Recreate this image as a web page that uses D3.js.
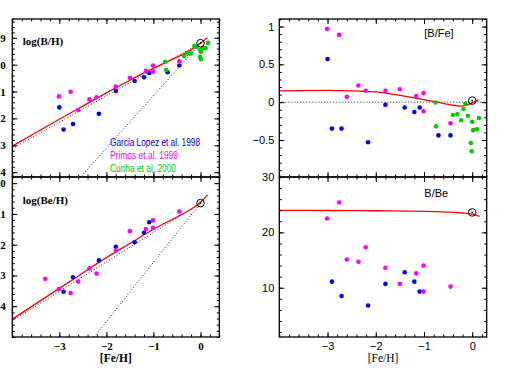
<!DOCTYPE html>
<html>
<head>
<meta charset="utf-8">
<script src="https://cdn.jsdelivr.net/npm/d3@7"></script>
<style>
  body { margin: 0; background: #fff; }
  svg { display: block; }
</style>
</head>
<body>
<script>
// --- dati ---
var garciaFe  = [-3.0, -2.91, -2.71, -2.16, -1.80, -1.40, -1.20, -1.09, -0.70, -0.45];
var garciaBH  = [-11.59, -12.41, -12.21, -11.83, -10.98, -10.61, -10.47, -10.31, -10.28, -10.03];
var garciaBFe = [0.57, -0.35, -0.35, -0.53, -0.035, -0.07, -0.13, -0.07, -0.44, -0.44];

var garciaBeFe = [-2.91, -2.71, -2.16, -1.80, -1.40, -1.20, -1.09];
var garciaBeH  = [-13.53, -13.06, -12.51, -12.07, -11.92, -11.61, -11.27];
var garciaBBe  = [11.1, 8.5, 6.8, 10.7, 12.8, 11.1, 9.3];

var primasFe  = [-3.01, -2.76, -2.60, -2.36, -2.21, -1.80, -1.50, -1.16, -1.01, -1.01, -0.45];
var primasBH  = [-11.18, -11.01, -11.69, -11.29, -11.21, -10.81, -10.49, -10.23, -10.03, -10.26, -9.87];
var primasBFe = [0.97, 0.89, 0.07, 0.22, 0.15, 0.15, 0.17, 0.08, 0.12, -0.12, -0.28];
var primasBBe = [22.5, 25.4, 15.1, 14.7, 17.3, 13.6, 10.7, 12.6, 14.0, 9.3, 10.2];

var primasBeFe = [-3.30, -3.01, -2.76, -2.60, -2.36, -2.21, -1.80, -1.50, -1.16, -1.01, -1.01, -0.45];
var primasBeH  = [-13.11, -13.44, -13.57, -13.20, -12.77, -12.94, -12.18, -11.56, -11.49, -11.21, -11.45, -10.92];

var cunhaFe  = [-0.75, -0.73, -0.35, -0.28, -0.20, -0.13, -0.08, -0.01, 0.01, 0.05, 0.11, 0.16, -0.01, 0.01];
var cunhaBH  = [-9.89, -10.20, -9.68, -9.58, -9.58, -9.31, -9.33, -9.45, -9.52, -9.37, -9.39, -9.19, -9.71, -9.80];
var cunhaFe2 = [-0.76, -0.75, -0.40, -0.31, -0.23, -0.18, -0.14, -0.09, -0.03, 0.0, 0.02, -0.01, 0.10, 0.14];
var cunhaBFe = [-0.005, -0.32, -0.17, -0.16, -0.24, -0.09, -0.02, -0.18, -0.54, -0.26, -0.37, -0.65, -0.36, -0.21];

// modello (curva rossa)
var modelFe   = [-4, -3, -2.5, -2, -1.5, -1, -0.5, -0.2, 0, 0.15];
var modelBH   = [-13.03, -12.03, -11.54, -11.05, -10.58, -10.13, -9.72, -9.45, -9.2, -9.0];
var modelBeH  = [-14.42, -13.42, -12.92, -12.42, -11.96, -11.5, -11.1, -10.85, -10.62, -10.38];
var modelFe2  = [-4, -3, -2.5, -2, -1.8, -1.5, -1.15, -0.76, -0.46, -0.19, 0, 0.13];
var modelBFe  = [0.15, 0.155, 0.15, 0.135, 0.12, 0.09, 0.05, 0.006, -0.035, -0.05, -0.01, 0.03];
var modelFe3  = [-4, -3, -2, -1, -0.5, -0.2, 0, 0.15];
var modelBBe  = [23.96, 23.95, 23.9, 23.8, 23.65, 23.5, 23.3, 22.9];

// linee punteggiate (pendenza 1 e 2 dal Sole)
var dotBH  = [[[-4, -13.12], [0, -9.2]], [[-2.53, -14.15], [0, -9.2]]];
var dotBeH = [[[-4, -14.47], [0, -10.65]], [[-2.26, -15], [0, -10.65]]];
var dotBFe = [[[-4, 0], [0.3, 0]]];

var sunBH = [0, -9.2], sunBeH = [0, -10.65], sunBFe = [0, 0.02], sunBBe = [0, 23.6];

var xTicks = [-3, -2, -1, 0];

var blue = "#0000ff", magenta = "#ff00ff", green = "#00cc00", red = "#ff0000";

var svg = d3.select("body").append("svg")
    .attr("width", 509)
    .attr("height", 380);

function zip(a, b) {
    return a.map(function (d, i) { return [d, b[i]]; });
}

function range(a, b, s) {
    var out = [];
    for (var v = a; v <= b + 1e-9; v += s) out.push(Math.round(v * 1000) / 1000);
    return out;
}

// disegna un pannello
function panel(o) {
    var w = o.x1 - o.x0, h = o.y1 - o.y0;
    var x = d3.scaleLinear().domain(o.xDom).range([0, w]);
    var y = d3.scaleLinear().domain(o.yDom).range([h, 0]);
    var g = svg.append("g").attr("transform", "translate(" + o.x0 + "," + o.y0 + ")");

    var clip = "clip" + o.id;
    g.append("clipPath").attr("id", clip).append("rect").attr("width", w).attr("height", h);
    var plot = g.append("g").attr("clip-path", "url(#" + clip + ")");

    var xMinor = range(-4, o.xDom[1], 0.2);
    var yMinor = range(Math.ceil(o.yDom[0] / o.yMinorStep) * o.yMinorStep, o.yDom[1], o.yMinorStep);

    function ax(axis, tr, vals, size, labels) {
        var a = axis.tickValues(vals).tickSize(size).tickPadding(5);
        a.tickFormat(labels ? d3.format("") : "");
        var sel = g.append("g").attr("transform", tr).call(a);
        sel.select(".domain").remove();
        sel.selectAll("line").attr("stroke", "#000").attr("stroke-width", 1);
        return sel;
    }
    // tacche minori
    ax(d3.axisBottom(x), "translate(0," + h + ")", xMinor, -2.5, false);
    ax(d3.axisTop(x), "translate(0,0)", xMinor, -2.5, false);
    ax(d3.axisLeft(y), "translate(0,0)", yMinor, -2.5, false);
    ax(d3.axisRight(y), "translate(" + w + ",0)", yMinor, -2.5, false);
    // tacche maggiori
    var xb = ax(d3.axisBottom(x), "translate(0," + h + ")", xTicks, -5, o.xLabels);
    ax(d3.axisTop(x), "translate(0,0)", xTicks, -5, false);
    var yl = g.append("g").call(
        d3.axisLeft(y).tickValues(o.yTicks).tickSize(-5).tickPadding(o.yPad)
            .tickFormat(d3.format("")));
    yl.select(".domain").remove();
    yl.selectAll("line").attr("stroke", "#000");
    ax(d3.axisRight(y), "translate(" + w + ",0)", o.yTicks, -5, false);

    [xb, yl].forEach(function (s) {
        s.selectAll("text")
            .attr("fill", "#000")
            .style("font-family", o.font)
            .style("font-weight", o.weight)
            .style("font-size", "11px");
    });

    g.append("rect").attr("width", w).attr("height", h)
        .attr("fill", "none").attr("stroke", "#000").attr("stroke-width", 1.3);

    var line = d3.line().x(function (d) { return x(d[0]); }).y(function (d) { return y(d[1]); });

    (o.dots || []).forEach(function (seg) {
        plot.append("path").attr("d", line(seg))
            .attr("fill", "none").attr("stroke", "#222").attr("stroke-width", 1)
            .attr("stroke-dasharray", "1,2");
    });

    plot.append("path").attr("d", line.curve(d3.curveCatmullRom)(o.model))
        .attr("fill", "none").attr("stroke", red).attr("stroke-width", 1.3);

    o.series.forEach(function (s) {
        plot.selectAll(null).data(s.pts).enter().append("circle")
            .attr("cx", function (d) { return x(d[0]); })
            .attr("cy", function (d) { return y(d[1]); })
            .attr("r", 2.3)
            .attr("fill", s.color);
    });

    // simbolo del Sole
    plot.append("circle").attr("cx", x(o.sun[0])).attr("cy", y(o.sun[1])).attr("r", 3.8)
        .attr("fill", "none").attr("stroke", "#000").attr("stroke-width", 1);
    plot.append("circle").attr("cx", x(o.sun[0])).attr("cy", y(o.sun[1])).attr("r", 0.9)
        .attr("fill", "#000");

    g.append("text").attr("x", o.lx).attr("y", o.ly).text(o.label)
        .style("font-family", o.lfont).style("font-weight", o.lweight)
        .style("font-size", "11px");

    if (o.xLabels) {
        g.append("text").attr("x", w / 2).attr("y", h + 25).attr("text-anchor", "middle")
            .text("[Fe/H]")
            .style("font-family", "Liberation Serif").style("font-weight", o.weight)
            .style("font-size", "11.5px");
    }
    return {g: g, x: x, y: y};
}

var serif = "Liberation Serif", sans = "Liberation Sans";

var p1 = panel({
    id: 1, x0: 12.3, x1: 219.3, y0: 19, y1: 177,
    xDom: [-4, 0.4], yDom: [-14.18, -8.3], yMinorStep: 0.2,
    yTicks: [-9, -10, -11, -12, -13, -14], yPad: 6.6,
    font: serif, weight: "bold", xLabels: false,
    dots: dotBH, model: zip(modelFe, modelBH), sun: sunBH,
    series: [
        {pts: zip(garciaFe, garciaBH), color: blue},
        {pts: zip(primasFe, primasBH), color: magenta},
        {pts: zip(cunhaFe, cunhaBH), color: green}
    ],
    label: "log(B/H)", lx: 10.5, ly: 26, lfont: serif, lweight: "bold"
});

var legend = [
    {t: "Garcia Lopez et al. 1998", c: blue, w: 90},
    {t: "Primos et al. 1999", c: magenta, w: 68},
    {t: "Cunha et al. 2000", c: green, w: 66}
];
p1.g.selectAll("text.leg").data(legend).enter().append("text")
    .attr("class", "leg")
    .attr("x", 97.7)
    .attr("y", function (d, i) { return 126.5 + i * 13.3; })
    .attr("fill", function (d) { return d.c; })
    .attr("textLength", function (d) { return d.w; })
    .attr("lengthAdjust", "spacingAndGlyphs")
    .style("font-family", "Liberation Sans Narrow, Liberation Sans")
    .style("font-size", "11px")
    .text(function (d) { return d.t; });

panel({
    id: 2, x0: 12.3, x1: 219.3, y0: 177, y1: 337,
    xDom: [-4, 0.4], yDom: [-15, -9.8], yMinorStep: 0.2,
    yTicks: [-10, -11, -12, -13, -14], yPad: 6.6,
    font: serif, weight: "bold", xLabels: true,
    dots: dotBeH, model: zip(modelFe, modelBeH), sun: sunBeH,
    series: [
        {pts: zip(garciaBeFe, garciaBeH), color: blue},
        {pts: zip(primasBeFe, primasBeH), color: magenta}
    ],
    label: "log(Be/H)", lx: 10.5, ly: 27, lfont: serif, lweight: "bold"
});

panel({
    id: 3, x0: 279.3, x1: 486.7, y0: 19, y1: 177,
    xDom: [-4, 0.3], yDom: [-0.99, 1.1], yMinorStep: 0.1,
    yTicks: [1, 0.5, 0, -0.5], yPad: 5,
    font: sans, weight: "normal", xLabels: false,
    dots: dotBFe, model: zip(modelFe2, modelBFe), sun: sunBFe,
    series: [
        {pts: zip(garciaFe, garciaBFe), color: blue},
        {pts: zip(primasFe, primasBFe), color: magenta},
        {pts: zip(cunhaFe2, cunhaBFe), color: green}
    ],
    label: "[B/Fe]", lx: 145, ly: 18, lfont: sans, lweight: "normal"
});

panel({
    id: 4, x0: 279.3, x1: 486.7, y0: 177, y1: 337,
    xDom: [-4, 0.3], yDom: [1.1, 30], yMinorStep: 2,
    yTicks: [10, 20, 30], yPad: 5,
    font: sans, weight: "normal", xLabels: true,
    dots: [], model: zip(modelFe3, modelBBe), sun: sunBBe,
    series: [
        {pts: zip(garciaBeFe, garciaBBe), color: blue},
        {pts: zip(primasFe, primasBBe), color: magenta}
    ],
    label: "B/Be", lx: 145, ly: 19.5, lfont: sans, lweight: "normal"
});
</script>
</body>
</html>
